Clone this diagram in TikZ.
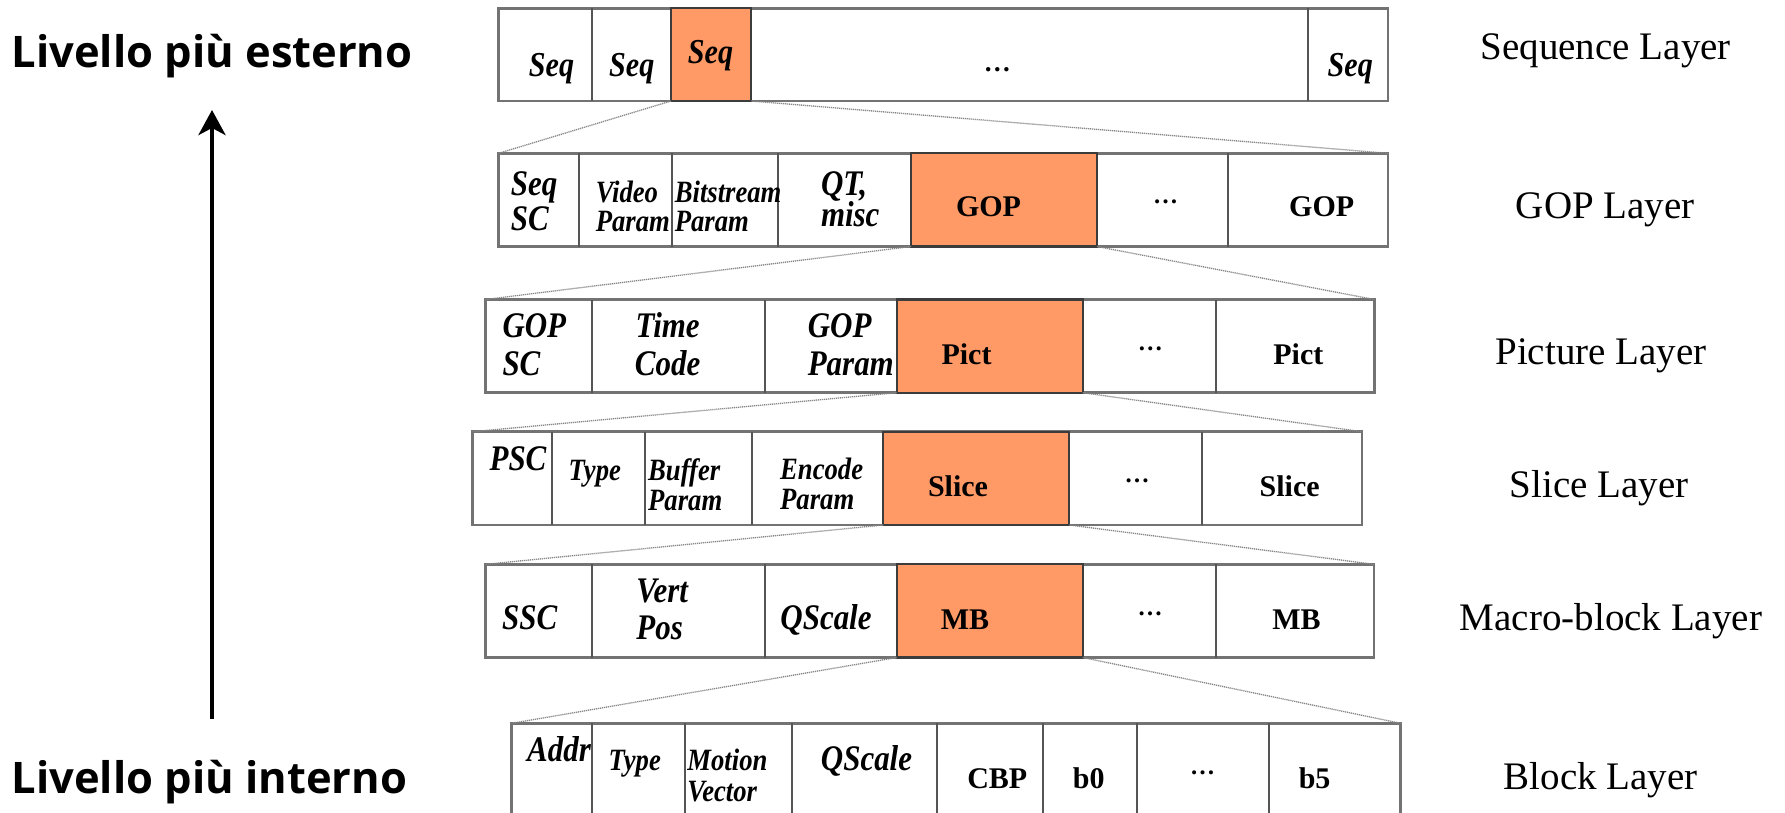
\documentclass[tikz,border=0pt]{standalone}
\usepackage{fontspec}
\setmainfont{Liberation Serif}
\newfontface\cellitface{Liberation Serif Bold Italic}[FakeStretch=0.86]
\newfontface\cellbfface{Liberation Serif Bold}
\newfontfamily\sidefont{Open Sans}
\usetikzlibrary{arrows.meta}

\definecolor{rowgray}{RGB}{115,115,115}
\definecolor{divgray}{RGB}{85,85,85}
\definecolor{hlborder}{RGB}{60,60,60}
\definecolor{hlfill}{RGB}{255,153,102}
\definecolor{zoomgray}{RGB}{135,135,135}

\tikzset{
  rowbox/.style={draw=rowgray, fill=white, line width=2.6pt, inner sep=0pt, outer sep=0pt, rectangle},
  hlbox/.style={draw=hlborder, fill=hlfill, line width=2.2pt, inner sep=0pt, outer sep=0pt, rectangle},
  divider/.style={draw=divgray, line width=2pt},
  zoomline/.style={draw=zoomgray, line width=1.3pt, dash pattern=on 1.2pt off 0.8pt},
  % narrow fields use the small italic, wide fields the large one
  cit/.style={font={\cellitface\fontsize{31}{36}\selectfont}, inner sep=0pt, anchor=base},
  citw/.style={cit, anchor=base west},
  citl/.style={font={\cellitface\fontsize{36}{42}\selectfont}, inner sep=0pt, anchor=base},
  citlw/.style={citl, anchor=base west},
  citbig/.style={font={\cellitface\fontsize{35}{40}\selectfont}, inner sep=0pt, anchor=base},
  cbf/.style={font={\cellbfface\fontsize{30}{36}\selectfont}, inner sep=0pt, anchor=base},
  cdots/.style={font={\cellbfface\fontsize{25}{28}\selectfont}, inner sep=0pt, anchor=center},
  layerlbl/.style={font={\fontsize{39}{46}\selectfont}, inner sep=0pt, anchor=base},
  sidelbl/.style={font={\sidefont\bfseries\fontsize{43.5}{50}\selectfont}, inner sep=0pt, anchor=base west},
  uparrow/.style={line width=4.3pt, -{Stealth[length=25pt, width=27pt, inset=7pt]}},
}

\begin{document}
\begin{tikzpicture}[x=1pt, y=-1pt]
\clip (0,0) rectangle (1785,812);
\fill[white] (0,0) rectangle (1785,812);

% ---- Sequence layer ----
\node[rowbox, minimum width=889.4pt, minimum height=92.7pt] (seqrow) at (943.3,54.65) {};
\foreach \x in {592,1308}
  \draw[divider] (\x,0 |- seqrow.north) -- (\x,0 |- seqrow.south);
\node[hlbox, minimum width=80.3pt, minimum height=92.7pt] (seqhl) at (711.15,54.65) {};

% ---- GOP layer ----
\node[rowbox, minimum width=889.4pt, minimum height=93.2pt] (goprow) at (943.3,199.9) {};
\foreach \x in {578.5,671.5,777.5,1228}
  \draw[divider] (\x,0 |- goprow.north) -- (\x,0 |- goprow.south);
\node[hlbox, minimum width=186pt, minimum height=93.2pt] (gophl) at (1004,199.9) {};

% ---- Picture layer ----
\node[rowbox, minimum width=888.8pt, minimum height=93.2pt] (pictrow) at (929.9,346.1) {};
\foreach \x in {592,765,1216}
  \draw[divider] (\x,0 |- pictrow.north) -- (\x,0 |- pictrow.south);
\node[hlbox, minimum width=186pt, minimum height=93.2pt] (picthl) at (989.7,346.1) {};

% ---- Slice layer ----
\node[rowbox, minimum width=889.5pt, minimum height=93.3pt] (slicerow) at (917.25,478.35) {};
\foreach \x in {552.2,645,752,1202.2}
  \draw[divider] (\x,0 |- slicerow.north) -- (\x,0 |- slicerow.south);
\node[hlbox, minimum width=186pt, minimum height=93.3pt] (slicehl) at (976.3,478.35) {};

% ---- Macro-block layer ----
\node[rowbox, minimum width=888.3pt, minimum height=93.2pt] (mbrow) at (929.85,610.9) {};
\foreach \x in {592.3,764.5,1216}
  \draw[divider] (\x,0 |- mbrow.north) -- (\x,0 |- mbrow.south);
\node[hlbox, minimum width=186pt, minimum height=93.2pt] (mbhl) at (989.7,610.9) {};

% ---- Block layer (runs past the lower edge) ----
\node[rowbox, minimum width=889pt, minimum height=93.2pt] (blockrow) at (956.2,769.9) {};
\foreach \x in {592.3,685,791.5,936.7,1042.7,1137,1269}
  \draw[divider] (\x,0 |- blockrow.north) -- (\x,0 |- blockrow.south);

% ---- zoom lines from each highlighted field to the layer below ----
\draw[zoomline] (seqhl.south west) -- (goprow.north west);
\draw[zoomline] (seqhl.south east) -- (goprow.north east);
\draw[zoomline] (gophl.south west) -- (pictrow.north west);
\draw[zoomline] (gophl.south east) -- (pictrow.north east);
\draw[zoomline] (picthl.south west) -- (slicerow.north west);
\draw[zoomline] (picthl.south east) -- (slicerow.north east);
\draw[zoomline] (slicehl.south west) -- (mbrow.north west);
\draw[zoomline] (slicehl.south east) -- (mbrow.north east);
\draw[zoomline] (mbhl.south west) -- (blockrow.north west);
\draw[zoomline] (mbhl.south east) -- (blockrow.north east);

% ---- field labels: sequence ----
\node[citbig] (s1a) at (551.5,76) {Seq};
\node[citbig] (s1b) at (631.8,76) {Seq};
\node[citbig] (s1c) at (710.5,63.3) {Seq};
\node[cdots, font={\cellbfface\fontsize{27}{30}\selectfont}] (s1d) at (997.4,70) {…};
\node[citbig] (s1e) at (1350.3,76) {Seq};

% ---- field labels: GOP ----
\node[citlw] (g2a1) at (510.7,195) {Seq};
\node[citlw] (g2a2) at (510.7,230) {SC};
\node[citw] (g2b1) at (595.6,202.3) {Video};
\node[citw] (g2b2) at (595.6,231.7) {Param};
\node[citw] (g2c1) at (674.6,202.3) {Bitstream};
\node[citw] (g2c2) at (674.6,231.7) {Param};
\node[citlw] (g2d1) at (820.8,195) {QT,};
\node[citlw] (g2d2) at (820.8,226.7) {misc};
\node[cbf] (g2e) at (988.5,216.7) {GOP};
\node[cdots] (g2f) at (1165.7,201.7) {…};
\node[cbf] (g2g) at (1321.7,216.7) {GOP};

% ---- field labels: picture ----
\node[citlw] (p3a1) at (502.3,337.3) {GOP};
\node[citlw] (p3a2) at (502.3,375) {SC};
\node[citl] (p3b1) at (667.6,337.3) {Time};
\node[citl] (p3b2) at (667.6,375) {Code};
\node[citlw] (p3c1) at (807.6,337.3) {GOP};
\node[citlw] (p3c2) at (807.6,375) {Param};
\node[cbf] (p3d) at (966.5,364) {Pict};
\node[cdots] (p3e) at (1150.3,349) {…};
\node[cbf] (p3f) at (1298.3,364) {Pict};

% ---- field labels: slice ----
\node[citlw] (l4a) at (489.4,470) {PSC};
\node[cit] (l4b) at (594.8,480) {Type};
\node[citw] (l4c1) at (648,480) {Buffer};
\node[citw] (l4c2) at (648,510) {Param};
\node[citw] (l4d1) at (780,479.3) {Encode};
\node[citw] (l4d2) at (780,509.3) {Param};
\node[cbf] (l4e) at (958,496.7) {Slice};
\node[cdots] (l4f) at (1137,480.7) {…};
\node[cbf] (l4g) at (1289.7,496.7) {Slice};

% ---- field labels: macro-block ----
\node[citl] (m5a) at (529.7,629) {SSC};
\node[citlw] (m5b1) at (636.2,602.7) {Vert};
\node[citlw] (m5b2) at (636.2,639.3) {Pos};
\node[citl] (m5c) at (826,629) {QScale};
\node[cbf] (m5d) at (965,629) {MB};
\node[cdots] (m5e) at (1150,614.3) {…};
\node[cbf] (m5f) at (1296.4,629) {MB};

% ---- field labels: block ----
\node[citl] (b6a) at (559,761.7) {Addr};
\node[cit] (b6b) at (634.7,770.7) {Type};
\node[citw] (b6c1) at (687.2,770.7) {Motion};
\node[citw] (b6c2) at (687.2,801.7) {Vector};
\node[citl] (b6d) at (866.5,770) {QScale};
\node[cbf] (b6e) at (997.3,788.3) {CBP};
\node[cbf] (b6f) at (1088.8,788.3) {b0};
\node[cdots] (b6g) at (1202.7,773.3) {…};
\node[cbf] (b6h) at (1314.6,788.3) {b5};

% ---- layer names ----
\node[layerlbl] (lseq) at (1605.7,59) {Sequence Layer};
\node[layerlbl] (lgop) at (1605.2,218) {GOP Layer};
\node[layerlbl] (lpic) at (1601,364.5) {Picture Layer};
\node[layerlbl] (lsli) at (1599,497) {Slice Layer};
\node[layerlbl] (lmb) at (1611,630.5) {Macro-block Layer};
\node[layerlbl] (lblk) at (1600.6,789.5) {Block Layer};

% ---- nesting direction ----
\node[sidelbl] (outer) at (11.4,67.5) {Livello più esterno};
\node[sidelbl] (inner) at (11.4,793.5) {Livello più interno};
\coordinate (arrfoot) at (212,719);
\coordinate (arrtip) at (212,110);
\draw[uparrow] (arrfoot) -- (arrtip);
\end{tikzpicture}
\end{document}
